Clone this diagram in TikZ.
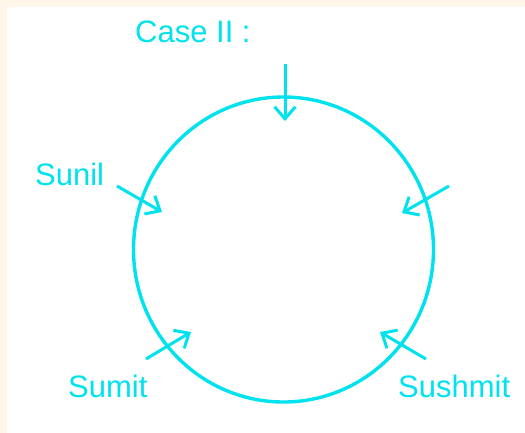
\documentclass[tikz,border=0pt]{standalone}
\usepackage{fontspec}
\setmainfont{Liberation Sans}
\usetikzlibrary{arrows.meta}
\definecolor{casecyan}{RGB}{0, 226, 238}
\definecolor{framebeige}{RGB}{255, 246, 234}

\begin{document}
\begin{tikzpicture}[
    x=1pt, y=-1pt,
    every node/.style={font=\fontsize{31}{36}\selectfont, text=casecyan},
    lbl/.style={anchor=base west, inner sep=0pt},
    arrow/.style={-{Straight Barb[length=12pt, width=21pt]}, line width=3pt, draw=casecyan},
]

%% Fondo con el marco beige arriba y a la izquierda
\useasboundingbox (0,0) rectangle (525,432);
\fill[framebeige] (-5,-5) rectangle (530,440);
\fill[white]      (7,7) rectangle (530,440);

%% Mesa redonda
\draw[casecyan, line width=3.4pt] (283.5,249.5) ellipse [x radius=150, y radius=152.5];
\coordinate (table) at (283.5,249.5);

%% Etiquetas
\node[lbl] at (135,42)  (case)    {Case II :};
\node[lbl] at (35,185)  (sunil)   {Sunil};
\node[lbl] at (68,397)  (sumit)   {Sumit};
\node[lbl] at (398,397) (sushmit) {Sushmit};

%% Extremos de las flechas
\coordinate (topS)     at (285,64);
\coordinate (topE)     at (285,121);
\coordinate (sunilS)   at (117,186);
\coordinate (sunilE)   at (162,212);
\coordinate (rightS)   at (449,186);
\coordinate (rightE)   at (402,213);
\coordinate (sumitS)   at (146,359);
\coordinate (sumitE)   at (191,332);
\coordinate (sushmitS) at (426,359);
\coordinate (sushmitE) at (380,332);

%% Flechas
\draw[arrow] (topS)     -- (topE);
\draw[arrow] (sunilS)   -- (sunilE);
\draw[arrow] (rightS)   -- (rightE);
\draw[arrow] (sumitS)   -- (sumitE);
\draw[arrow] (sushmitS) -- (sushmitE);

\end{tikzpicture}
\end{document}
